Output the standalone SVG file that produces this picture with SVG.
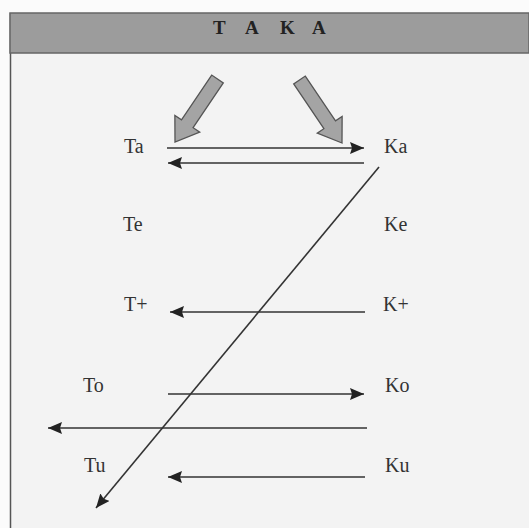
<svg xmlns="http://www.w3.org/2000/svg" width="529" height="528" viewBox="0 0 529 528">
<defs>
<style>
.lbl{font-family:"Liberation Serif","Times New Roman",serif;font-size:20px;fill:#333}
.ttl{font-family:"Liberation Serif","Times New Roman",serif;font-size:19px;font-weight:bold;fill:#222}
.con{stroke:#333;stroke-width:1.6;fill:none;marker-end:url(#ah)}
.blk{fill:#a4a4a4;stroke:#555;stroke-width:1.3;stroke-linejoin:miter}
</style>
<marker id="ah" viewBox="0 0 14 12" refX="14" refY="6" markerWidth="14" markerHeight="12" markerUnits="userSpaceOnUse" orient="auto">
<path d="M0,0 L14,6 L0,12 L2,6 Z" fill="#222"/>
</marker>
</defs>
<rect x="0" y="0" width="529" height="528" fill="#fbfbfb"/>
<rect x="10" y="53" width="519" height="475" fill="#f3f3f3"/>
<line x1="10.5" y1="13" x2="10.5" y2="528" stroke="#555" stroke-width="1.5"/>
<g id="header">
<rect x="10" y="13" width="519" height="40" fill="#9c9c9c" stroke="#666" stroke-width="1.5"/>
<text class="ttl" y="34"><tspan x="213">T</tspan><tspan x="245">A</tspan><tspan x="280">K</tspan><tspan x="312">A</tspan></text>
</g>
<g id="block-arrows">
<polygon class="blk" transform="translate(175,142) rotate(-56)" points="0,0 22,-15 22,-7 76,-7 76,7 22,7 22,15"/>
<polygon class="blk" transform="translate(342,143) rotate(-124)" points="0,0 22,-15 22,-7 76,-7 76,7 22,7 22,15"/>
</g>
<g id="connectors">
<line class="con" x1="167" y1="148" x2="364" y2="148"/>
<line class="con" x1="364" y1="163" x2="168" y2="163"/>
<line class="con" x1="365" y1="312" x2="170" y2="312"/>
<line class="con" x1="168" y1="394" x2="364" y2="394"/>
<line class="con" x1="367" y1="428" x2="48" y2="428"/>
<line class="con" x1="365" y1="477" x2="168" y2="477"/>
<line class="con" x1="379" y1="167" x2="96" y2="508"/>
</g>
<g id="node-Ta"><text class="lbl" x="124" y="153">Ta</text></g>
<g id="node-Ka"><text class="lbl" x="384" y="153">Ka</text></g>
<g id="node-Te"><text class="lbl" x="123" y="231">Te</text></g>
<g id="node-Ke"><text class="lbl" x="384" y="231">Ke</text></g>
<g id="node-Tp"><text class="lbl" x="124" y="311">T+</text></g>
<g id="node-Kp"><text class="lbl" x="383" y="311">K+</text></g>
<g id="node-To"><text class="lbl" x="83" y="392">To</text></g>
<g id="node-Ko"><text class="lbl" x="385" y="392">Ko</text></g>
<g id="node-Tu"><text class="lbl" x="84" y="472">Tu</text></g>
<g id="node-Ku"><text class="lbl" x="385" y="472">Ku</text></g>
</svg>
